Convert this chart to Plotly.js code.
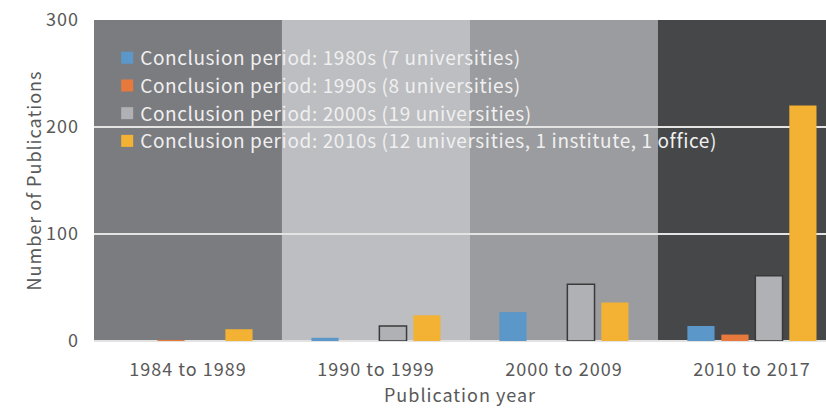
<!DOCTYPE html>
<html>
<head>
<meta charset="utf-8">
<script src="https://cdn.plot.ly/plotly-3.0.1.min.js"></script>
<style>
html,body{margin:0;padding:0;background:#fff;}
#chart{width:826px;height:408px;}
#chart .xtick text, #chart .ytick text, #chart .g-xtitle text, #chart .g-ytitle text {letter-spacing:1px;}
#chart .legendtext {letter-spacing:0.6px;}
</style>
</head>
<body>
<div id="chart"></div>
<script>
const categories = ["1984 to 1989", "1990 to 1999", "2000 to 2009", "2010 to 2017"];
const seriesNames = [
  "Conclusion period: 1980s (7 universities)",
  "Conclusion period: 1990s (8 universities)",
  "Conclusion period: 2000s (19 universities)",
  "Conclusion period: 2010s (12 universities, 1 institute, 1 office)"
];
const s1980s = [0, 3, 27, 14];
const s1990s = [1, 0, 0, 6];
const s2000s = [0, 14, 53, 61];
const s2010s = [11, 24, 36, 220];
const seriesColors = ["#5b97c9", "#e8793d", "#b0b1b5", "#f3b233"];
const seriesLines = ["#5b97c9", "#e8793d", "#3a3a3a", "#f3b233"];
const bandColors = ["#7b7c80", "#bdbec2", "#9b9c9f", "#464749"];
const yTicks = [0, 100, 200, 300];

const allSeries = [s1980s, s1990s, s2000s, s2010s];
const traces = allSeries.map((vals, i) => ({
  type: "bar",
  name: seriesNames[i],
  x: categories.map((c, k) => k),
  y: vals,
  marker: {
    color: seriesColors[i],
    line: {color: seriesLines[i], width: vals.map(v => (i === 2 && v > 0) ? 1.5 : 0)}
  },
  hoverinfo: "skip"
}));

const shapes = categories.map((c, k) => ({
  type: "rect", xref: "x", yref: "paper",
  x0: k - 0.5, x1: k + 0.5, y0: 0, y1: 1,
  fillcolor: bandColors[k], line: {width: 0}, layer: "below"
}));

const font = "'Noto Sans CJK JP', 'Noto Sans', sans-serif";
const layout = {
  width: 826, height: 408,
  margin: {l: 94, r: 0, t: 20, b: 67},
  paper_bgcolor: "#ffffff",
  plot_bgcolor: "#ffffff",
  font: {family: font, size: 18, color: "#595959"},
  barmode: "group",
  bargap: 0.277,
  bargroupgap: 0.2,
  showlegend: true,
  legend: {
    x: 0.018, y: 0.941, xanchor: "left", yanchor: "top",
    bgcolor: "rgba(0,0,0,0)",
    font: {family: font, size: 19, color: "#f0f0f0"},
    tracegroupgap: 0
  },
  xaxis: {
    type: "linear",
    range: [-0.5, 3.394],
    tickvals: categories.map((c, k) => k),
    ticktext: categories,
    showgrid: false, zeroline: false, showline: false,
    ticks: "", ticklabelstandoff: 16,
    tickfont: {size: 18, color: "#595959"},
    title: {text: "Publication year", font: {size: 18, color: "#595959"}, standoff: 8}
  },
  yaxis: {
    range: [0, 300],
    tickvals: yTicks,
    showgrid: true, gridcolor: "#e4e4e4", gridwidth: 2,
    zeroline: true, zerolinecolor: "#e2e2e2", zerolinewidth: 2,
    showline: false, ticks: "",
    ticklabelstandoff: 14,
    tickfont: {size: 18, color: "#595959"},
    title: {text: "Number of Publications", font: {size: 18, color: "#595959"}, standoff: 2}
  },
  shapes: shapes
};

Plotly.newPlot("chart", traces, layout, {displayModeBar: false, staticPlot: true}).then(gd => {
  gd.querySelectorAll(".legend [clip-path]").forEach(el => el.removeAttribute("clip-path"));
  gd.querySelectorAll(".legend .legendtext").forEach(t => {
    const x = parseFloat(t.getAttribute("x") || "0");
    t.setAttribute("x", x - 7);
  });
});
</script>
</body>
</html>
